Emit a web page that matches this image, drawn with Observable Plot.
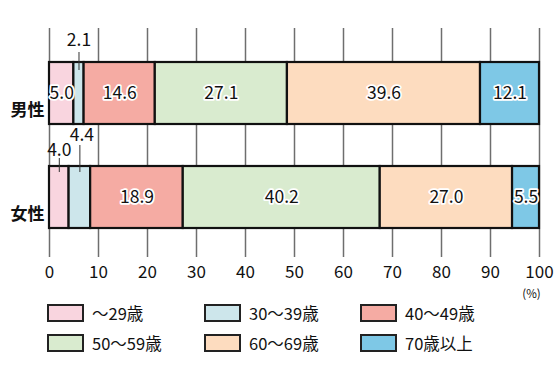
<!DOCTYPE html>
<html>
<head>
<meta charset="utf-8">
<script src="https://cdn.jsdelivr.net/npm/d3@7"></script>
<script src="https://cdn.jsdelivr.net/npm/@observablehq/plot@0.6"></script>
<style>
  html, body { margin: 0; padding: 0; background: #fff; }
  body { width: 560px; height: 380px; overflow: hidden; font-family: "Noto Sans CJK JP", "Noto Sans", sans-serif; }
  #legend { display: grid; grid-template-columns: 157px 156px 156px; row-gap: 12px; margin: 4px 0 0 47px; }
  .item { display: flex; align-items: center; height: 18px; font-size: 16.5px; color: #111; }
  .sw { box-sizing: border-box; width: 37px; height: 18px; border: 2px solid #222; margin-right: 8px; }
</style>
</head>
<body>
<div id="chart"></div>
<div id="legend"></div>
<script>
const groups = ["男性", "女性"];
const ages = ["～29歳", "30～39歳", "40～49歳", "50～59歳", "60～69歳", "70歳以上"];
const male = [5.0, 2.1, 14.6, 27.1, 39.6, 12.1];
const female = [4.0, 4.4, 18.9, 40.2, 27.0, 5.5];
const colors = ["#f9d5df", "#cde6eb", "#f5aba3", "#d9ebcf", "#fddcbf", "#7ec8e6"];
const xTicks = [0, 10, 20, 30, 40, 50, 60, 70, 80, 90, 100];

const data = [];
ages.forEach((a, i) => data.push({group: groups[0], age: a, value: male[i], idx: i}));
ages.forEach((a, i) => data.push({group: groups[1], age: a, value: female[i], idx: i}));

const isOutside = d => (d.group === "男性" && d.idx === 1) || (d.group === "女性" && (d.idx === 0 || d.idx === 1));
const font = "'Noto Sans CJK JP', 'Noto Sans', sans-serif";
const st = (opts) => Plot.stackX({offset: "normalize", order: null}, {x: "value", y: "group", z: "age", ...opts});
const pick = (g, i) => d => d.group === g && d.idx === i;

const plot = Plot.plot({
  width: 560,
  height: 300,
  marginLeft: 49,
  marginRight: 21,
  marginTop: 28,
  marginBottom: 43,
  style: {fontFamily: font, background: "#fff", overflow: "visible"},
  x: {domain: [0, 1], ticks: xTicks.map(t => t / 100), tickFormat: d => String(Math.round(d * 100)), label: null},
  y: {domain: groups, paddingInner: 0.4, paddingOuter: 0.3, align: 0.55, label: null},
  color: {domain: ages, range: colors},
  marks: [
    Plot.ruleX(xTicks.map(t => t / 100), {stroke: "#6e6e6e", strokeWidth: 1.5}),
    Plot.ruleY([0], {frameAnchor: "top", stroke: "#8a8a8a", strokeWidth: 1.5}),
    Plot.ruleY([0], {frameAnchor: "bottom", stroke: "#444", strokeWidth: 1.5}),
    Plot.barX(data, st({fill: "age", stroke: "#111", strokeWidth: 2.2})),
    Plot.text(data, Plot.filter(d => !isOutside(d), st({text: d => d.value.toFixed(1), fill: "#111", stroke: "#fff", strokeWidth: 3.5, fontSize: 17.5}))),
    // leader lines for small segments
    Plot.tickX(data, Plot.filter(pick("男性", 1), st({stroke: "#333", strokeWidth: 1, insetTop: -10, insetBottom: 54}))),
    Plot.tickX(data, Plot.filter(pick("女性", 0), st({stroke: "#333", strokeWidth: 1, insetTop: -8, insetBottom: 56}))),
    Plot.tickX(data, Plot.filter(pick("女性", 1), st({stroke: "#333", strokeWidth: 1, insetTop: -21, insetBottom: 56}))),
    Plot.text(data, Plot.filter(pick("男性", 1), st({text: d => d.value.toFixed(1), fill: "#111", fontSize: 17.5, dy: -53}))),
    Plot.text(data, Plot.filter(pick("女性", 0), st({text: d => d.value.toFixed(1), fill: "#111", fontSize: 17.5, dy: -47}))),
    Plot.text(data, Plot.filter(pick("女性", 1), st({text: d => d.value.toFixed(1), fill: "#111", fontSize: 17.5, dy: -62, dx: 2}))),
    Plot.axisX({anchor: "bottom", ticks: xTicks.map(t => t / 100), tickFormat: d => String(Math.round(d * 100)), tickSize: 0, tickPadding: 8, fontSize: 17, fill: "#111", label: null}),
    Plot.axisY({anchor: "left", tickSize: 0, tickPadding: 5, fontSize: 17, fontWeight: "bold", fill: "#111", dy: 17, label: null}),
    Plot.text(["(%)"], {frameAnchor: "bottom-right", dx: -8, dy: 40, fontSize: 11.5, fill: "#111", textAnchor: "middle"})
  ]
});
document.getElementById("chart").appendChild(plot);

const legend = document.getElementById("legend");
ages.forEach((a, i) => {
  const it = document.createElement("div");
  it.className = "item";
  const sw = document.createElement("span");
  sw.className = "sw";
  sw.style.background = colors[i];
  const lb = document.createElement("span");
  lb.textContent = a;
  it.appendChild(sw);
  it.appendChild(lb);
  legend.appendChild(it);
});
</script>
</body>
</html>
